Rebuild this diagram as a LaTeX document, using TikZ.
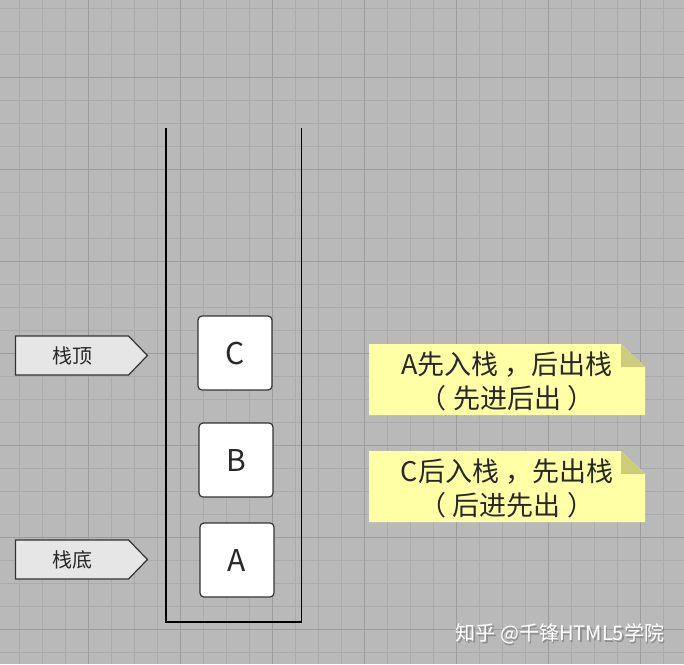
\documentclass[tikz,border=0pt]{standalone}
\usepackage{fontspec}
\setmainfont{Noto Sans CJK SC}
\usepackage{tikz}
\usepackage{xcolor}
\usetikzlibrary{positioning,shapes.symbols}
\definecolor{bggray}{RGB}{185,185,185}
\definecolor{gridminor}{RGB}{171,171,171}
\definecolor{gridmajor}{RGB}{156,156,156}
\definecolor{boxline}{RGB}{51,51,51}
\definecolor{tagfill}{RGB}{230,230,230}
\definecolor{notefill}{RGB}{255,255,166}
\definecolor{flapfill}{RGB}{204,204,122}
\definecolor{textdark}{RGB}{40,40,40}

\begin{document}
\begin{tikzpicture}[x=1pt,y=-1pt,
   minor/.style={draw=gridminor,line width=0.8pt},
   major/.style={draw=gridmajor,line width=0.9pt},
   wall/.style={draw=black,line width=1.6pt},
   block/.style={draw=boxline,fill=white,line width=1.2pt,rounded corners=4pt,
      minimum size=74pt,inner sep=0pt,text=textdark,font=\fontsize{30}{36}\selectfont},
   tag/.style={signal,signal to=east,signal pointer angle=92,draw=boxline,fill=tagfill,
      line width=1.2pt,minimum height=39pt,minimum width=132pt,inner sep=0pt,
      text=textdark,font=\fontsize{20}{24}\selectfont},
   notetext/.style={align=center,inner sep=0pt,text=textdark,font=\fontsize{27}{34}\selectfont},
   wmark/.style={text=white,font=\fontsize{20}{24}\selectfont},
   wshadow/.style={text=black!45,font=\fontsize{20}{24}\selectfont}]
   \useasboundingbox (0,0) rectangle (684,664);
   \fill[bggray] (0,0) rectangle (684,664);
   % grid
   \foreach \k in {1,...,29}
      \draw[minor] ({-3.7+23*\k},0) -- ++(0,664);
   \foreach \k in {0,...,28}
      \draw[minor] (0,{8.7+23*\k}) -- ++(684,0);
   \foreach \k in {1,...,7}
      \draw[major] ({-3.7+92*\k},0) -- ++(0,664);
   \foreach \k in {0,...,6}
      \draw[major] (0,{77.3+92*\k}) -- ++(684,0);

   % the stack
   \coordinate (lt) at (166,128);
   \coordinate (lb) at (166,622);
   \coordinate (rb) at (301.5,622);
   \coordinate (rt) at (301.5,128);
   \draw[wall] (lt) -- (lb) -- (rb) -- (rt);

   \node[block] (c) at (235,353) {C};
   \node[block] (b) at (236,460) {B};
   \node[block] (a) at (237,560) {A};

   \node[tag] (top)    at (72,355.5) {栈顶};
   \node[tag] (bottom) at (72,559.5) {栈底};

   % notes
   \coordinate (n1) at (369,344);
   \fill[notefill] (n1) -- ++(252,0) -- ++(24,23) -- ++(0,48) -- ++(-276,0) -- cycle;
   \fill[flapfill] ([xshift=252pt]n1) -- ++(0,23) -- ++(24,0) -- cycle;
   \node[notetext] (note1) at (507,381) {A先入栈 ，后出栈\\（ 先进后出 ）};

   \coordinate (n2) at (369,451);
   \fill[notefill] (n2) -- ++(252,0) -- ++(24,23) -- ++(0,48) -- ++(-276,0) -- cycle;
   \fill[flapfill] ([xshift=252pt]n2) -- ++(0,23) -- ++(24,0) -- cycle;
   \node[notetext] (note2) at (507,488) {C后入栈 ，先出栈\\（ 后进先出 ）};

   \node[wshadow] (wms) at (561.5,635.5) {知乎 @千锋HTML5学院};
   \node[wmark]   (wm)  at (560,634) {知乎 @千锋HTML5学院};
\end{tikzpicture}
\end{document}
